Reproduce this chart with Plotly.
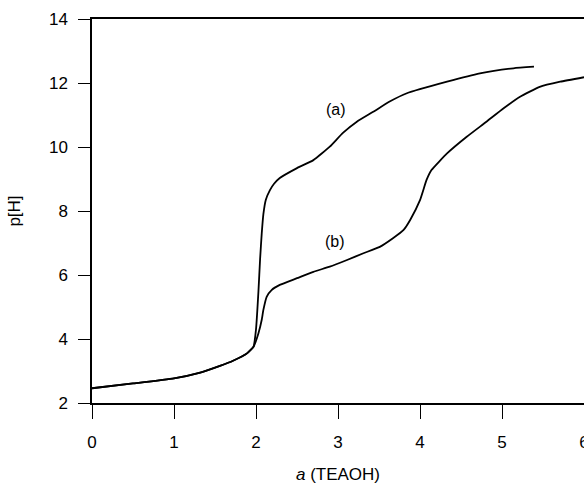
import plotly.graph_objects as go

# Curve (a)
xa = [0, 0.5, 1.0, 1.32, 1.56, 1.72, 1.89, 1.97, 2.0, 2.03, 2.05, 2.07, 2.09, 2.12,
      2.17, 2.22, 2.29, 2.5, 2.7, 2.9, 3.06, 3.23, 3.43, 3.63, 3.84, 4.33, 4.73, 5.14, 5.39]
ya = [2.46, 2.61, 2.77, 2.95, 3.16, 3.32, 3.55, 3.76, 4.3, 5.5, 6.5, 7.3, 7.9, 8.35,
      8.65, 8.85, 9.03, 9.34, 9.59, 10.01, 10.44, 10.79, 11.10, 11.42, 11.68, 12.04, 12.30, 12.46, 12.51]

# Curve (b)
xb = [0, 0.5, 1.0, 1.32, 1.56, 1.72, 1.89, 1.97, 2.03, 2.07, 2.09, 2.13, 2.19, 2.29,
      2.5, 2.7, 2.9, 3.11, 3.31, 3.51, 3.67, 3.8, 3.88, 4.0, 4.08, 4.14, 4.33, 4.57,
      4.81, 5.02, 5.22, 5.46, 5.71, 6.0]
yb = [2.46, 2.61, 2.77, 2.95, 3.16, 3.32, 3.55, 3.76, 4.18, 4.6, 4.91, 5.32, 5.53, 5.69,
      5.90, 6.10, 6.26, 6.47, 6.68, 6.88, 7.15, 7.41, 7.72, 8.34, 8.97, 9.28, 9.80, 10.32,
      10.79, 11.21, 11.57, 11.88, 12.04, 12.18]

labels = ["(a)", "(b)"]
label_x = [2.98, 2.96]
label_y = [11.16, 7.04]

xticks = [0, 1, 2, 3, 4, 5, 6]
yticks = [2, 4, 6, 8, 10, 12, 14]

FONT = "Liberation Sans, Arial, Helvetica, sans-serif"

fig = go.Figure()
for xs, ys in [(xa, ya), (xb, yb)]:
    fig.add_trace(go.Scatter(x=xs, y=ys, mode="lines",
                             line=dict(color="black", width=1.8, shape="spline", smoothing=0.4),
                             showlegend=False, hoverinfo="skip"))

for t, lx, ly in zip(labels, label_x, label_y):
    fig.add_annotation(x=lx, y=ly, text=t, showarrow=False,
                       font=dict(family=FONT, size=16, color="black"))

fig.update_layout(
    template="none",
    width=584, height=489,
    margin=dict(l=92, r=0, t=19, b=86),
    paper_bgcolor="white", plot_bgcolor="white",
    font=dict(family=FONT, size=17, color="black"),
    xaxis=dict(range=[0, 6], tickvals=xticks, ticks="outside", ticklen=14, tickwidth=1.2,
               tickcolor="black", showline=True, linecolor="black", linewidth=1.5,
               mirror=True, showgrid=False, zeroline=False, automargin=False,
               ticklabelstandoff=9, ticklabeloverflow="allow",
               title=dict(text="<i>a</i> (TEAOH)", standoff=17,
                          font=dict(family=FONT, size=17))),
    yaxis=dict(range=[2, 14], tickvals=yticks, ticks="outside", ticklen=12, tickwidth=1.2,
               tickcolor="black", showline=True, linecolor="black", linewidth=1.5,
               mirror=True, showgrid=False, zeroline=False, automargin=False,
               ticklabelstandoff=7, ticklabeloverflow="allow",
               title=dict(text="p[H]", standoff=24,
                          font=dict(family=FONT, size=17))),
)

fig.write_html("out.html")
